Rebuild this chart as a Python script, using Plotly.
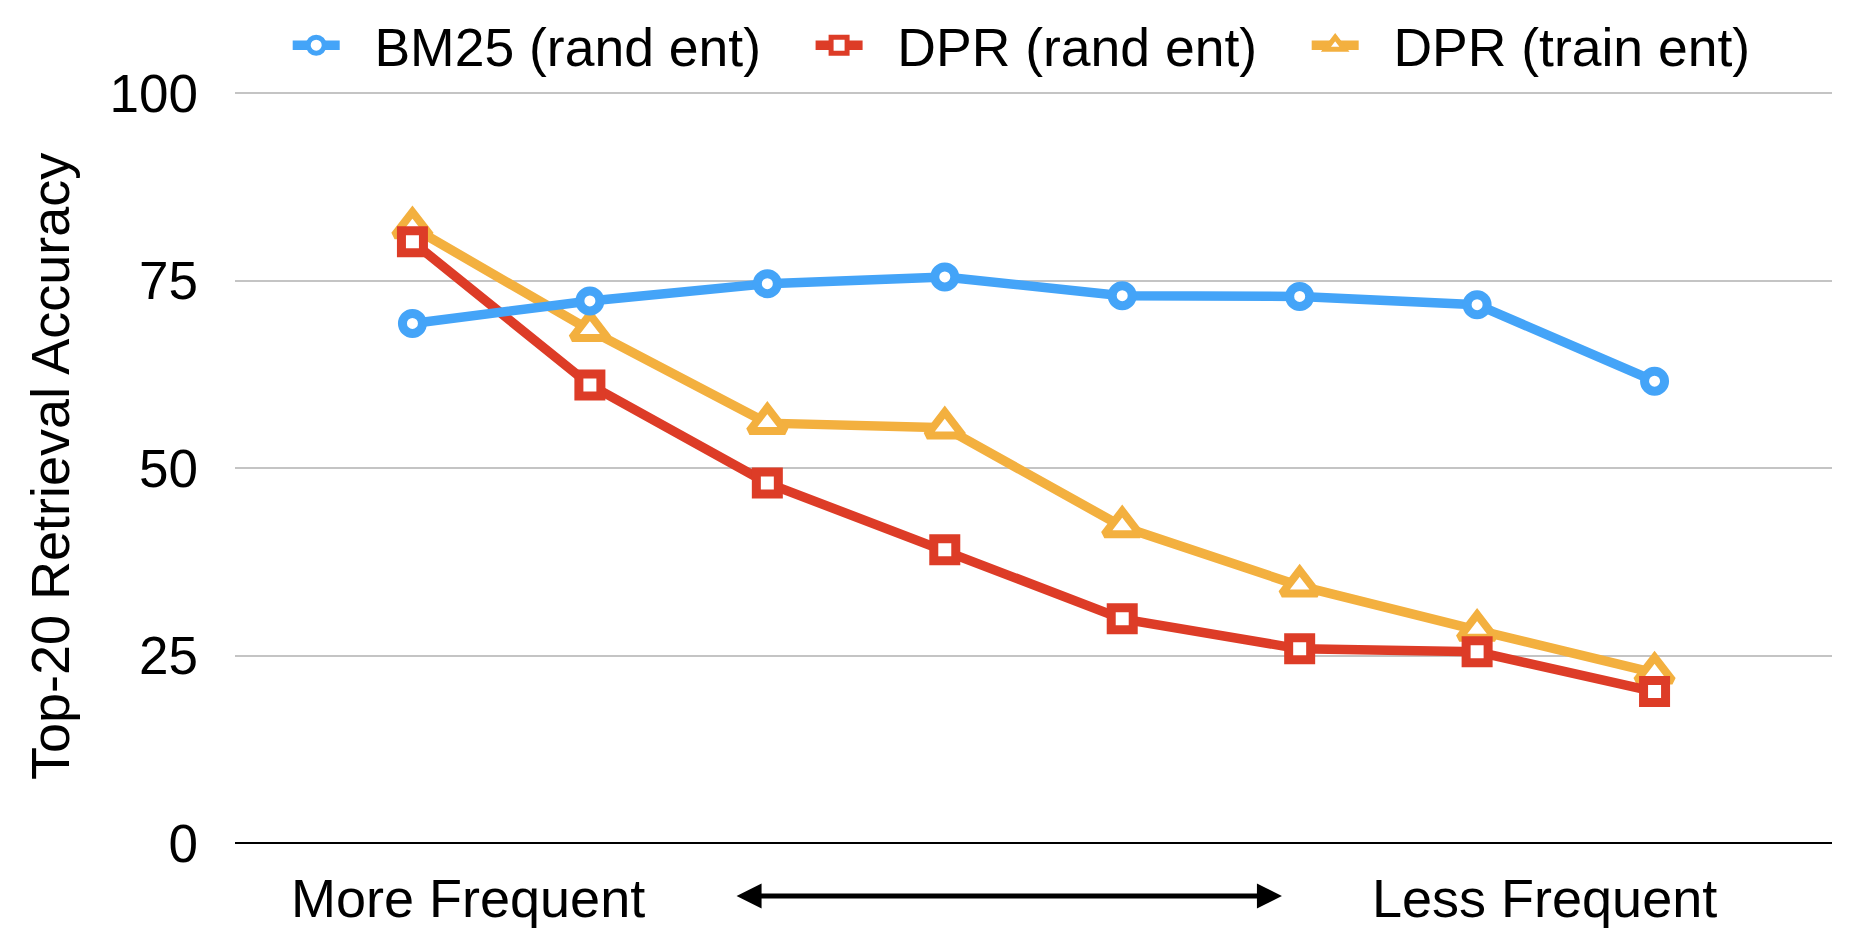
import plotly.graph_objects as go

# ---- data ----
bins = [0, 1, 2, 3, 4, 5, 6, 7]  # entity-frequency bins, more -> less frequent
bm25_rand = [69.3, 72.3, 74.6, 75.5, 73.0, 72.9, 71.8, 61.6]
dpr_rand = [80.2, 61.1, 48.0, 39.1, 29.9, 25.9, 25.5, 20.2]
dpr_train = [82.1, 68.4, 56.0, 55.4, 42.2, 34.3, 28.4, 22.7]
y_ticks = [0, 25, 50, 75, 100]

FONT = "Liberation Sans, Arial, Helvetica, sans-serif"
BLUE = "#44A4F8"
RED = "#DD3C27"
ORANGE = "#F3B03F"
NB = "\u00a0"
TAIL = NB * 3

fig = go.Figure()

fig.add_trace(go.Scatter(
    x=bins, y=dpr_train, mode="lines+markers", name=NB * 2 + "DPR (train ent)",
    line=dict(color=ORANGE, width=9.5),
    marker=dict(symbol="triangle-up", size=31, color="white",
                line=dict(color=ORANGE, width=8)),
))
fig.add_trace(go.Scatter(
    x=bins, y=dpr_rand, mode="lines+markers", name=NB * 2 + "DPR (rand ent)" + TAIL,
    line=dict(color=RED, width=9.5),
    marker=dict(symbol="square", size=22, color="white",
                line=dict(color=RED, width=9)),
))
fig.add_trace(go.Scatter(
    x=bins, y=bm25_rand, mode="lines+markers", name=NB * 2 + "BM25 (rand ent)" + TAIL,
    line=dict(color=BLUE, width=9.5),
    marker=dict(symbol="circle", size=20, color="white",
                line=dict(color=BLUE, width=9)),
))

fig.update_layout(
    width=1842, height=926,
    margin=dict(l=227, r=18, t=83, b=91, autoexpand=False),
    paper_bgcolor="white", plot_bgcolor="white",
    font=dict(family=FONT, size=54, color="black"),
    showlegend=True,
    legend=dict(
        orientation="h", traceorder="reversed",
        x=0.033, xanchor="left", y=1.0606, yanchor="middle",
        font=dict(family=FONT, size=53.5, color="black"),
        bgcolor="rgba(0,0,0,0)", itemwidth=47,
    ),
    xaxis=dict(
        range=[-1, 8], showgrid=False, zeroline=False,
        showticklabels=False, ticks="", showline=False,
    ),
    yaxis=dict(
        range=[0, 100.3], tickvals=y_ticks, ticktext=[str(v) for v in y_ticks],
        showgrid=True, gridcolor="#C4C4C4", gridwidth=1.5,
        zeroline=True, zerolinecolor="black", zerolinewidth=2,
        showline=False, ticks="", ticklabelstandoff=36,
        tickfont=dict(family=FONT, size=53, color="black"),
    ),
)

# y-axis title
fig.add_annotation(
    text="Top-20 Retrieval Accuracy", textangle=-90,
    xref="paper", yref="paper", x=-0.1158, y=0.5,
    xanchor="center", yanchor="middle", showarrow=False,
    font=dict(family=FONT, size=54, color="black"),
)

# x-axis direction labels
fig.add_annotation(
    text="More Frequent", xref="paper", yref="paper",
    x=0.1459, y=-0.0731, xanchor="center", yanchor="middle", showarrow=False,
    font=dict(family=FONT, size=54, color="black"),
)
fig.add_annotation(
    text="Less Frequent", xref="paper", yref="paper",
    x=0.8197, y=-0.0731, xanchor="center", yanchor="middle", showarrow=False,
    font=dict(family=FONT, size=54, color="black"),
)
# double-headed arrow
fig.add_annotation(
    text="", xref="x", yref="paper", x=4.90, y=-0.0705,
    axref="x", ayref="pixel", ax=1.818, ay=0,
    showarrow=True, arrowhead=2, arrowside="end+start",
    arrowsize=1.0, arrowwidth=5, arrowcolor="black",
)

fig.write_html("out.html")
